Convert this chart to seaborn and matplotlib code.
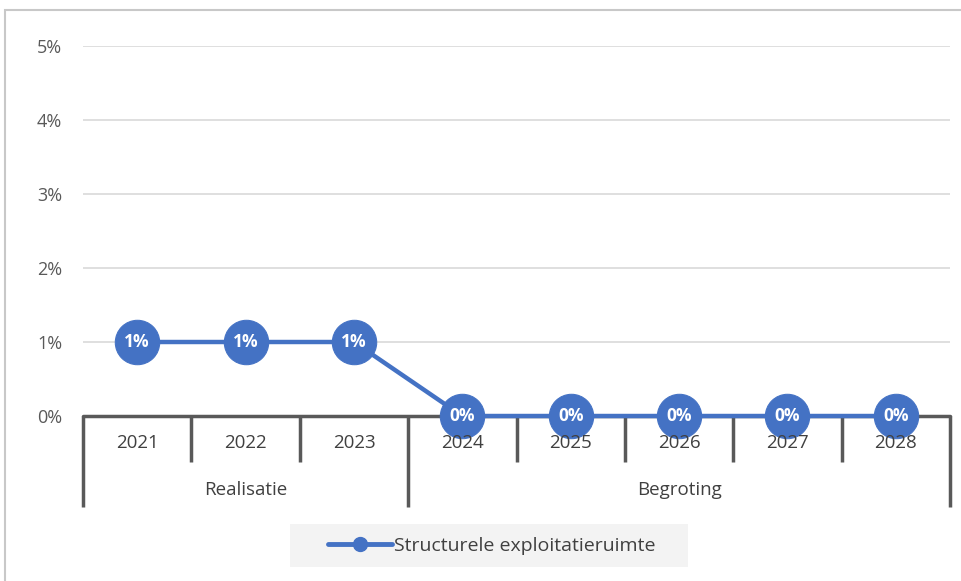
import matplotlib
matplotlib.use("Agg")
import matplotlib.pyplot as plt
import seaborn as sns
import pandas as pd
from matplotlib.patches import Rectangle

years = ["2021", "2022", "2023", "2024", "2025", "2026", "2027", "2028"]
values = [1, 1, 1, 0, 0, 0, 0, 0]
value_labels = ["1%", "1%", "1%", "0%", "0%", "0%", "0%", "0%"]
groups = ["Realisatie", "Begroting"]
group_sizes = [3, 5]
yticks = [0, 1, 2, 3, 4, 5]
ytick_labels = ["0%", "1%", "2%", "3%", "4%", "5%"]
series_name = "Structurele exploitatieruimte"

sns.set_theme(style="white")
plt.rcParams["font.family"] = ["Open Sans", "DejaVu Sans"]

W, H = 962, 581
fig = plt.figure(figsize=(W / 100, H / 100), dpi=100)
fig.patch.set_facecolor("white")
# outer frame
fig.add_artist(Rectangle((5 / W, -0.1), 1.2, (H - 10) / H + 0.1, transform=fig.transFigure,
                         fill=False, edgecolor="#c8c8c8", linewidth=1.5))
# legend background
fig.add_artist(Rectangle((290 / W, (H - 567) / H), 398 / W, 43 / H, transform=fig.transFigure,
                         facecolor="#f3f3f3", edgecolor="none", zorder=0))

ax_left, ax_right, ax_top, ax_bottom = 83, 950, 46, 416
ax = fig.add_axes([ax_left / W, (H - ax_bottom) / H, (ax_right - ax_left) / W, (ax_bottom - ax_top) / H])
ax.patch.set_alpha(0)
ax_h = ax_bottom - ax_top

blue = "#4472C4"
txt = "#404040"
df = pd.DataFrame({"x": list(range(len(years))), "y": values})
sns.lineplot(data=df, x="x", y="y", ax=ax, color=blue, linewidth=3.2, marker="o",
             markersize=32, markeredgecolor=blue, markerfacecolor=blue, zorder=5,
             label=series_name, legend=False)
for ln in ax.get_lines():
    ln.set_clip_on(False)

for i, (v, lab) in enumerate(zip(values, value_labels)):
    ax.text(i, v, lab, color="white", fontsize=12.5, fontweight="bold", ha="center", va="center",
            zorder=6, clip_on=False)

ax.set_xlim(-0.5, len(years) - 0.5)
ax.set_ylim(0, 5)
ax.set_yticks(yticks)
ax.set_yticklabels(ytick_labels, color="#595959", fontsize=13)
ax.tick_params(axis="y", length=0, pad=15)
ax.set_xticks([])
ax.set_xlabel("")
ax.set_ylabel("")
for s in ["left", "right", "top", "bottom"]:
    ax.spines[s].set_visible(False)
for t in yticks[1:]:
    ax.axhline(t, color="#d9d9d9", linewidth=1.2, zorder=1)
ax.axhline(0, color="#595959", linewidth=2.5, zorder=2, clip_on=False)

# multi-level category axis
tr = ax.get_xaxis_transform()
short = 46 / ax_h
long_ = 91 / ax_h
boundaries = [0]
for g in group_sizes:
    boundaries.append(boundaries[-1] + g)
for k in range(len(years) + 1):
    L = long_ if k in boundaries else short
    ax.plot([k - 0.5, k - 0.5], [0, -L], transform=tr, color="#595959", linewidth=2.5,
            clip_on=False, zorder=2, solid_capstyle="butt")
for i, yr in enumerate(years):
    ax.text(i, -27 / ax_h, yr, transform=tr, ha="center", va="center", color=txt, fontsize=13.5, zorder=7)
for gi, g in enumerate(groups):
    c = (boundaries[gi] + boundaries[gi + 1]) / 2 - 0.5
    ax.text(c, -74 / ax_h, g, transform=tr, ha="center", va="center", color=txt, fontsize=13.5)

handle = plt.Line2D([], [], color=blue, linewidth=3.5, marker="o", markersize=10)
leg = fig.legend([handle], [series_name], loc="center", bbox_to_anchor=(492 / W, (H - 546) / H),
                 frameon=False, fontsize=14, handlelength=3.3, borderpad=0, handletextpad=0.1,
                 borderaxespad=0)
for t in leg.get_texts():
    t.set_color(txt)

fig.savefig("out.png", dpi=100)
